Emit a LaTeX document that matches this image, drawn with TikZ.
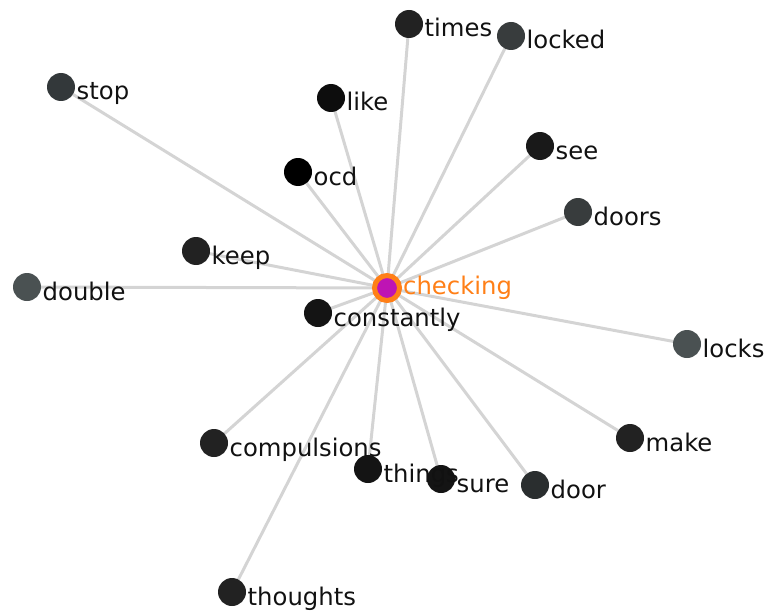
\documentclass[tikz,border=0pt]{standalone}
\usepackage{fontspec}
\setmainfont{DejaVu Sans}
\definecolor{edgec}{HTML}{D4D4D4}
\definecolor{ringc}{HTML}{FF7F17}
\definecolor{hubc}{HTML}{BE14B4}
\definecolor{txtc}{HTML}{111111}
\definecolor{gA}{HTML}{33383A}
\definecolor{gB}{HTML}{4A5152}
\definecolor{gC}{HTML}{383C3D}
\definecolor{gD}{HTML}{2A2E2F}
\definecolor{gE}{HTML}{222222}
\definecolor{gF}{HTML}{141414}
\pgfdeclarelayer{bg}
\pgfdeclarelayer{fg}
\pgfsetlayers{bg,main,fg}
\tikzset{
  dot/.style={circle,minimum size=28pt,inner sep=0pt,draw=none},
  lbl/.style={anchor=base west,inner sep=0pt,text=txtc,font=\fontsize{24.3}{28}\selectfont},
  edge/.style={draw=edgec,line width=3pt},
  hub/.style={circle,minimum size=25pt,inner sep=0pt,draw=ringc,line width=5pt,fill=hubc}
}
\newcommand\gn[5]{%
  \node[dot,fill=#4] (#1) at (#2,#3) {};
  \begin{pgfonlayer}{fg}
  \node[lbl] (#1-l) at ([shift={(15.5,13)}]#1.center) {#5};
  \end{pgfonlayer}}
\begin{document}
\begin{tikzpicture}[x=1pt,y=-1pt]
\useasboundingbox (0,0) rectangle (773,615);
\node[hub] (c) at (387,288) {};
\gn{stop}{61}{87}{gA}{stop}
\gn{times}{409}{24}{gE}{times}
\gn{locked}{511}{36}{gC}{locked}
\gn{like}{331}{98}{black!95}{like}
\gn{see}{540}{146}{black!90}{see}
\gn{ocd}{298}{172}{black}{ocd}
\gn{doors}{578}{212}{gC}{doors}
\gn{keep}{196}{251}{gE}{keep}
\gn{double}{27}{287}{gB}{double}
\gn{constantly}{318}{313}{black!92}{constantly}
\gn{locks}{687}{344}{gB}{locks}
\gn{compulsions}{214}{443}{gE}{compulsions}
\gn{make}{630}{438}{gE}{make}
\gn{things}{368}{469}{gF}{things}
\gn{sure}{441}{479}{gF}{sure}
\gn{door}{535}{485}{gD}{door}
\gn{thoughts}{232}{592}{gE}{thoughts}
\begin{pgfonlayer}{fg}
\node[lbl,text=ringc] (c-l) at ([shift={(16,6.5)}]c.center) {checking};
\end{pgfonlayer}
\begin{pgfonlayer}{bg}
\foreach \n in {stop,times,locked,like,see,ocd,doors,keep,double,constantly,locks,compulsions,make,things,sure,door,thoughts}
  \draw[edge] (c.center) -- (\n.center);
\end{pgfonlayer}
\end{tikzpicture}
\end{document}
